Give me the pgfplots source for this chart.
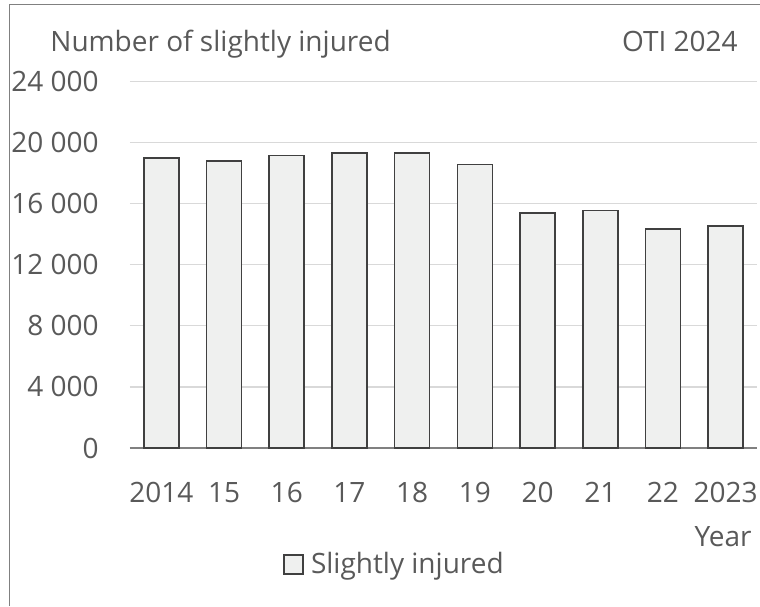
\documentclass[border=0pt]{standalone}
\usepackage{pgfplots}
\pgfplotsset{compat=1.18}
\usepackage{fontspec}
\setmainfont{Open Sans}
\definecolor{txt}{HTML}{595959}
\definecolor{barfill}{HTML}{EFF0EF}
\definecolor{barline}{HTML}{404040}
\definecolor{gridc}{HTML}{D9D9D9}
\definecolor{framec}{HTML}{808080}
\begin{document}
\begin{tikzpicture}
\useasboundingbox (0pt,-303pt) rectangle (380pt,0pt);
\draw[framec, line width=0.5pt] (4.5pt,-303pt) -- (4.5pt,-2pt) -- (380pt,-2pt);
\begin{axis}[
  at={(65pt,-224pt)}, anchor=south west,
  scale only axis, width=313.5pt, height=183.2pt,
  xmin=-0.5, xmax=9.5, ymin=0, ymax=24000,
  axis x line*=bottom, axis y line*=left,
  x axis line style={draw=framec, line width=0.6pt, -},
  y axis line style={draw=none},
  scaled y ticks=false,
  xtick={0,...,9},
  xticklabels={2014,15,16,17,18,19,20,21,22,2023},
  ytick={0,4000,8000,12000,16000,20000,24000},
  yticklabels={0,4 000,8 000,12 000,16 000,20 000,24 000},
  xmajorgrids=false, ymajorgrids=true,
  y grid style={draw=gridc, line width=0.6pt},
  major tick length=0pt, tick style={draw=none},
  tick label style={font=\fontsize{14}{16}\selectfont, text=txt, inner sep=0pt},
  yticklabel style={anchor=east, xshift=-15.5pt},
  xticklabel style={anchor=north, yshift=-16.8pt},
  clip=false,
  legend style={at={(axis description cs:0,0)}, anchor=west, xshift=76.5pt, yshift=-58.3pt,
    draw=none, fill=none, font=\fontsize{14}{16}\selectfont, text=txt,
    inner sep=0pt, legend cell align=left},
  legend image code/.code={\draw[#1] (0pt,-4.75pt) rectangle (9.5pt,4.75pt); \path (11pt,0pt);},
]
\addplot[ybar, bar width=17.5pt, fill=barfill, draw=barline, line width=0.8pt]
  coordinates {(0,18978) (1,18801) (2,19149) (3,19305) (4,19305) (5,18559) (6,15375) (7,15546) (8,14347) (9,14543)};
\addlegendentry{Slightly injured}
\end{axis}
\node[anchor=base west, text=txt, inner sep=0pt, font=\fontsize{14}{16}\selectfont] at (25pt,-25.5pt) {Number of slightly injured};
\node[anchor=base east, text=txt, inner sep=0pt, font=\fontsize{14}{16}\selectfont] at (369pt,-25.7pt) {OTI 2024};
\node[anchor=base east, text=txt, inner sep=0pt, font=\fontsize{14}{16}\selectfont] at (376pt,-273.3pt) {Year};
\end{tikzpicture}
\end{document}
